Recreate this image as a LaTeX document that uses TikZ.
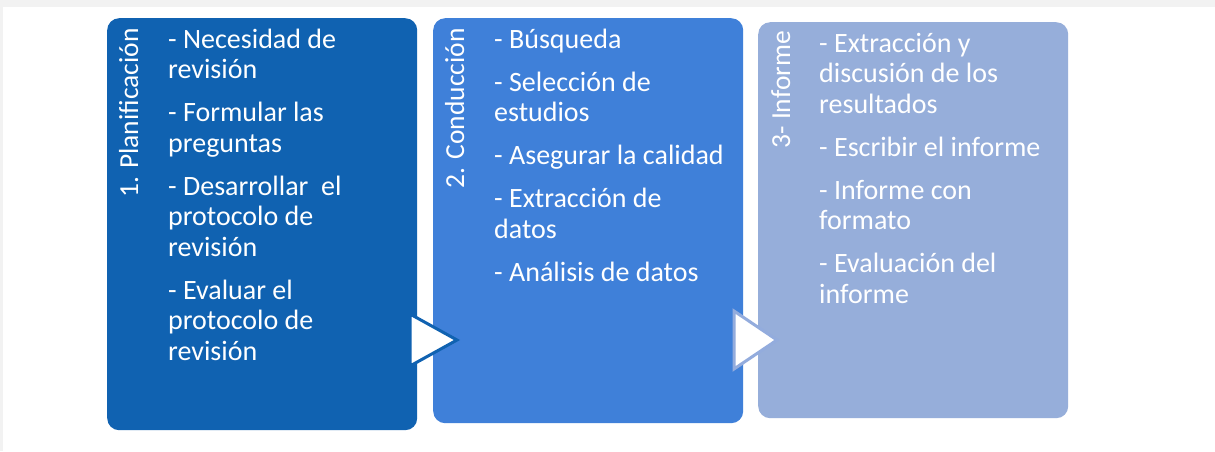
\documentclass[tikz,border=0pt]{standalone}
\usepackage{fontspec}
\setmainfont{Carlito}
\definecolor{bgGray}{HTML}{F2F2F2}
\definecolor{cOne}{HTML}{1062B1}
\definecolor{cTwo}{HTML}{3F80D9}
\definecolor{cThree}{HTML}{96AEDA}
\definecolor{cTwoLine}{HTML}{93ACDD}
\tikzset{
  phase/.style={draw=none, rounded corners=12pt, minimum width=310pt, anchor=north west, inner sep=0pt},
  items/.style={anchor=north west, inner sep=0pt, align=left, text=white, font=\fontsize{28}{30.5}\selectfont},
  label/.style={rotate=90, anchor=base east, inner sep=0pt, text=white, font=\fontsize{27.5}{30}\selectfont},
  chev/.style={line width=3pt, fill=white, line join=miter}
}
\newcommand{\fl}{\rule{0pt}{22pt}}
\begin{document}
\begin{tikzpicture}[x=1pt,y=-1pt]
\fill[bgGray] (0,0) rectangle (1215,451);
\fill[white] (3,7) rectangle (1215,451);
\useasboundingbox (0,0) rectangle (1215,451);
% boxes
\node[phase, fill=cOne, minimum height=412pt] (b1) at (107,18) {};
\node[phase, fill=cTwo, minimum height=405pt] (b2) at (433,18) {};
\node[phase, fill=cThree, minimum height=396pt] (b3) at (758,22) {};
% chevrons
\draw[chev, draw=cOne] (410,314) -- (457,340) -- (410,366) -- cycle;
\draw[chev, draw=cTwoLine] (734,311) -- (777,340) -- (734,369) -- cycle;
% labels
\node[label] (l1) at (138,28) {1. Planificación};
\node[label] (l2) at (464,28) {2. Conducción};
\node[label] (l3) at (790,31) {3- Informe};
% items
\node[items] (t1) at (168,26) {\fl- Necesidad de\\revisión\\[12.5pt]- Formular las\\preguntas\\[12.5pt]- Desarrollar\ \ el\\protocolo de\\revisión\\[12.5pt]- Evaluar el\\protocolo de\\revisión};
\node[items] (t2) at (494,26) {\fl- Búsqueda\\[12.5pt]- Selección de\\estudios\\[12.5pt]- Asegurar la calidad\\[12.5pt]- Extracción de\\datos\\[12.5pt]- Análisis de datos};
\node[items] (t3) at (819,30) {\fl- Extracción y\\discusión de los\\resultados\\[12.5pt]- Escribir el informe\\[12.5pt]- Informe con\\formato\\[12.5pt]- Evaluación del\\informe};
\end{tikzpicture}
\end{document}
